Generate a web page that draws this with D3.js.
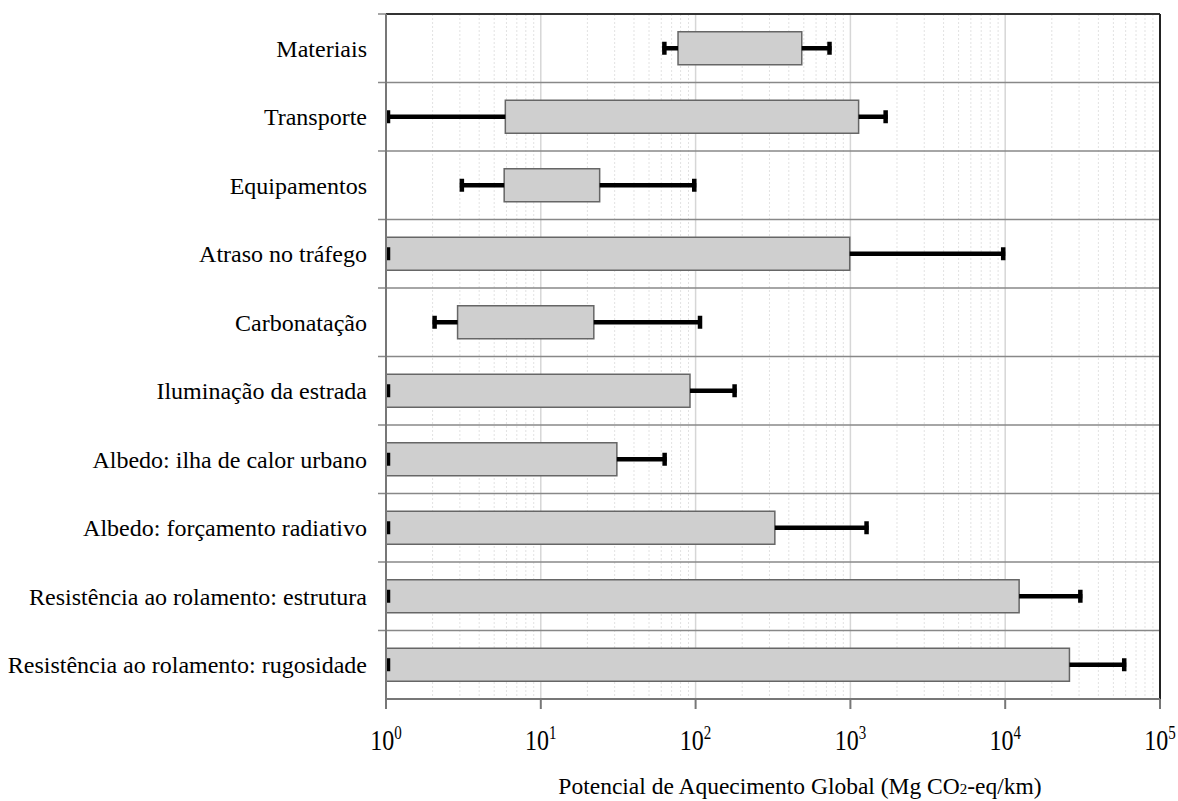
<!DOCTYPE html>
<html>
<head>
<meta charset="utf-8">
<script src="https://cdn.jsdelivr.net/npm/d3@7"></script>
<style>
  body { margin: 0; background: #fff; }
  svg text { font-family: "Liberation Serif", "Times New Roman", serif; fill: #000; }
</style>
</head>
<body>
<div id="chart"></div>
<script>
// categories, top to bottom
let categories = ["Materiais", "Transporte", "Equipamentos", "Atraso no tráfego", "Carbonatação",
  "Iluminação da estrada", "Albedo: ilha de calor urbano", "Albedo: forçamento radiativo",
  "Resistência ao rolamento: estrutura", "Resistência ao rolamento: rugosidade"];
// bar start / bar end (Mg CO2-eq/km)
let barLow  = [77, 5.9, 5.8, 1, 2.9, 1, 1, 1, 1, 1];
let barHigh = [485, 1130, 24, 990, 22, 92, 31, 325, 12300, 26000];
// whisker extents
let errLow  = [61, 1, 3.0, 1, 2.0, 1, 1, 1, 1, 1];
let errHigh = [755, 1740, 101, 10000, 110, 184, 65, 1310, 31500, 60500];
let tickExps = [0, 1, 2, 3, 4, 5];

let margin = ({top: 14, right: 18, bottom: 102, left: 386});
let width = 1178, height = 801;
let innerW = width - margin.left - margin.right;
let innerH = height - margin.top - margin.bottom;

let svg = d3.select("#chart").append("svg")
  .attr("width", width).attr("height", height);
let g = svg.append("g").attr("transform", "translate(" + margin.left + "," + margin.top + ")");

let x = d3.scaleLog().domain([1, 1e5]).range([0, innerW]);
let y = d3.scaleBand().domain(categories).range([0, innerH]);

////////////////////////////////
//   Grid
////////////////////////////////
let minor = [];
for (let e = 0; e < 5; e++) for (let m = 2; m <= 9; m++) minor.push(m * Math.pow(10, e));
g.append("g").selectAll("line").data(minor).enter().append("line")
  .attr("x1", d => x(d)).attr("x2", d => x(d))
  .attr("y1", 0).attr("y2", innerH)
  .attr("stroke", "#e2e2e2").attr("stroke-width", 1).attr("stroke-dasharray", "2,2");
g.append("g").selectAll("line").data(tickExps.slice(1, 5)).enter().append("line")
  .attr("x1", d => x(Math.pow(10, d))).attr("x2", d => x(Math.pow(10, d)))
  .attr("y1", 0).attr("y2", innerH)
  .attr("stroke", "#d6d6d6").attr("stroke-width", 1.5);

// row separators (extend left as tick marks)
let bounds = categories.map(c => y(c)).concat([innerH]);
g.append("g").selectAll("line").data(bounds.slice(1, 10)).enter().append("line")
  .attr("x1", -8).attr("x2", innerW)
  .attr("y1", d => d).attr("y2", d => d)
  .attr("stroke", "#888").attr("stroke-width", 1.5);
g.append("line").attr("x1", -8).attr("x2", 0).attr("y1", 0).attr("y2", 0)
  .attr("stroke", "#888").attr("stroke-width", 1.5);

////////////////////////////////
//   Bars
////////////////////////////////
let bh = 33;
let idx = d3.range(categories.length);
g.append("g").selectAll("rect").data(idx).enter().append("rect")
  .attr("x", i => x(barLow[i]))
  .attr("y", i => y(categories[i]) + y.bandwidth() / 2 - bh / 2)
  .attr("width", i => x(barHigh[i]) - x(barLow[i]))
  .attr("height", bh)
  .attr("fill", "#cfcfcf").attr("stroke", "#666").attr("stroke-width", 1.5);

////////////////////////////////
//   Error bars
////////////////////////////////
let eb = g.append("g");
idx.forEach(function(i) {
  let cy = y(categories[i]) + y.bandwidth() / 2;
  if (errLow[i] < barLow[i]) {
    eb.append("line").attr("x1", x(errLow[i])).attr("x2", x(barLow[i]))
      .attr("y1", cy).attr("y2", cy).attr("stroke", "#000").attr("stroke-width", 4.5);
  }
  eb.append("line").attr("x1", x(barHigh[i])).attr("x2", x(errHigh[i]))
    .attr("y1", cy).attr("y2", cy).attr("stroke", "#000").attr("stroke-width", 4.5);
  [errLow[i], errHigh[i]].forEach(function(v, k) {
    let cx = x(v) + (k == 0 ? 2 : -2);
    eb.append("line").attr("x1", cx).attr("x2", cx)
      .attr("y1", cy - 6.5).attr("y2", cy + 6.5).attr("stroke", "#000").attr("stroke-width", 4.5);
  });
});

////////////////////////////////
//   Frame and axes
////////////////////////////////
g.append("line").attr("x1", 0).attr("x2", innerW).attr("y1", 0).attr("y2", 0)
  .attr("stroke", "#333").attr("stroke-width", 2);
g.append("line").attr("x1", innerW).attr("x2", innerW).attr("y1", 0).attr("y2", innerH)
  .attr("stroke", "#222").attr("stroke-width", 2);
g.append("line").attr("x1", 0).attr("x2", 0).attr("y1", 0).attr("y2", innerH)
  .attr("stroke", "#777").attr("stroke-width", 2);
g.append("line").attr("x1", 0).attr("x2", innerW).attr("y1", innerH).attr("y2", innerH)
  .attr("stroke", "#777").attr("stroke-width", 2);

let xt = g.append("g").attr("transform", "translate(0," + innerH + ")");
xt.selectAll("line").data(tickExps).enter().append("line")
  .attr("x1", d => x(Math.pow(10, d))).attr("x2", d => x(Math.pow(10, d)))
  .attr("y1", 0).attr("y2", 10).attr("stroke", "#777").attr("stroke-width", 2);
// tick labels are drawn slightly tall, as in the source figure
let tl = xt.selectAll("text").data(tickExps).enter().append("text")
  .attr("transform", d => "translate(" + x(Math.pow(10, d)) + ",51) scale(1,1.22)")
  .attr("text-anchor", "middle")
  .attr("font-size", "24px");
tl.append("tspan").text("10");
tl.append("tspan").attr("dy", -9).attr("font-size", "15px").text(d => d);

// category labels
g.append("g").selectAll("text").data(categories).enter().append("text")
  .attr("x", -19)
  .attr("y", d => y(d) + y.bandwidth() / 2)
  .attr("dy", "0.35em")
  .attr("text-anchor", "end")
  .attr("font-size", "24px")
  .text(d => d);

// axis title
let title = svg.append("text")
  .attr("x", 800).attr("y", 794)
  .attr("text-anchor", "middle")
  .attr("font-size", "23.5px");
title.append("tspan").text("Potencial de Aquecimento Global (Mg CO");
title.append("tspan").attr("font-size", "15px").text("2");
title.append("tspan").text("-eq/km)");
</script>
</body>
</html>
